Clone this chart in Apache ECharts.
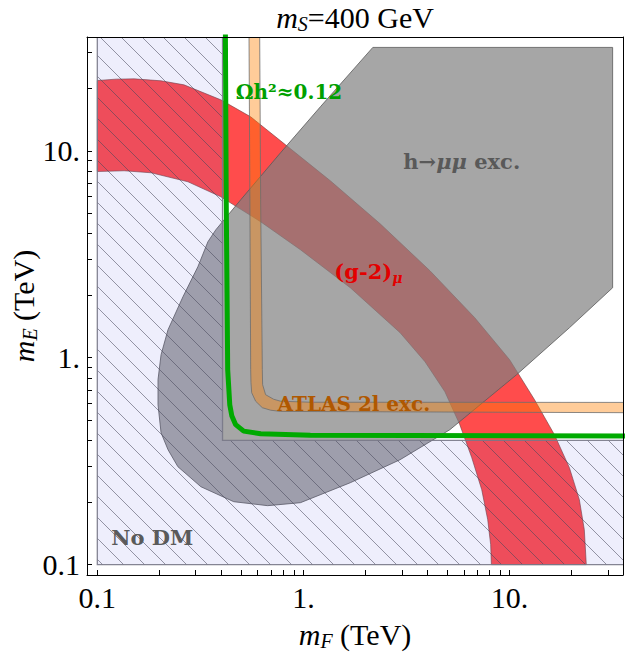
<!DOCTYPE html>
<html>
<head>
<meta charset="utf-8">
<script src="https://cdn.jsdelivr.net/npm/echarts@6.0.0/dist/echarts.min.js"></script>
<style>
html,body{margin:0;padding:0;background:#fff;}
#chart{width:625px;height:658px;}
</style>
</head>
<body>
<div id="chart"></div>
<script>
// ---------------- data (all masses in TeV) ----------------
const tickValues = [0.1,0.2,0.3,0.4,0.5,0.6,0.7,0.8,0.9,1,2,3,4,5,6,7,8,9,10,20,30];
const tickLabelValues = [0.1, 1, 10];
const tickLabels = ['0.1', '1.', '10.'];

// "No DM" region (x < ~0.405 or y < ~0.40)
const noDmF = [0.1, 0.1, 0.405, 0.405, 40, 40];
const noDmE = [0.1, 40, 40, 0.399, 0.399, 0.1];

// relic density contour  Omega h^2 ~ 0.12
const relicF = [0.418, 0.422, 0.429, 0.439, 0.449, 0.469, 0.513, 0.620, 1.08, 40];
const relicE = [40, 5.80, 0.875, 0.593, 0.525, 0.475, 0.442, 0.429, 0.422, 0.418];

// h -> mu mu excluded region boundary
const hmmF = [2.17, 31.6, 31.6, 19.5, 10.81, 5.13, 2.942, 1.687, 0.967, 0.670, 0.459, 0.318, 0.246, 0.2203, 0.2038, 0.197, 0.197, 0.2038, 0.2203, 0.2603, 0.3075, 0.3439, 0.3758, 0.4963, 0.774, 1.208];
const hmmE = [31.6, 31.6, 2.179, 1.396, 0.828, 0.449, 0.3215, 0.2489, 0.1993, 0.1928, 0.2015, 0.238, 0.2974, 0.3593, 0.434, 0.593, 0.783, 1.034, 1.366, 1.971, 2.753, 3.634, 4.153, 5.80, 9.78, 16.32];

// (g-2)_mu band: upper and lower edges
const g2UpperF = [0.1, 0.1235, 0.151, 0.2038, 0.2632, 0.3972, 0.5545, 0.8187, 1.350, 2.355, 4.108, 6.775, 10.0, 13.21, 16.50, 19.50, 21.79, 23.03, 23.55];
const g2UpperE = [21.86, 22.2, 22.27, 21.79, 20.84, 17.64, 14.6, 10.69, 7.165, 4.441, 2.633, 1.561, 0.978, 0.6267, 0.4246, 0.2941, 0.2061, 0.1476, 0.1];
const g2LowerF = [0.1, 0.135, 0.1823, 0.2752, 0.3972, 0.6198, 0.967, 1.687, 2.942, 3.886, 4.853, 5.734, 6.553, 7.323, 7.83, 8.094, 8.158];
const g2LowerE = [7.94, 8.008, 7.83, 7.085, 5.995, 4.54, 3.325, 2.179, 1.321, 0.9565, 0.685, 0.4746, 0.3288, 0.2303, 0.165, 0.1249, 0.1];

// ATLAS 2l exclusion band: outer and inner edges
const atlasOuterF = [0.5441, 0.5497, 0.5546, 0.5564, 0.5608, 0.5862, 0.6316, 0.6929, 0.7742, 40];
const atlasOuterE = [40, 5.80, 0.875, 0.757, 0.6776, 0.6164, 0.5735, 0.5578, 0.5502, 0.5423];
const atlasInnerF = [0.6130, 0.6198, 0.6316, 0.6337, 0.6553, 0.7164, 0.7742, 1.081, 40];
const atlasInnerE = [40, 5.80, 0.875, 0.7407, 0.6627, 0.6302, 0.6164, 0.6095, 0.6082];

// ---------------- helpers ----------------
const lg = v => Math.log10(v);
const toLog = (F, E) => F.map((f, i) => [lg(f), lg(E[i])]);
const SERIF = '"Liberation Serif", "Times New Roman", serif';
const BOLDSERIF = '"DejaVu Serif", serif';

function makeHatch() {
  const s = 21;
  const c = document.createElement('canvas');
  c.width = s; c.height = s;
  const g = c.getContext('2d');
  g.fillStyle = 'rgba(85,85,225,0.10)';
  g.fillRect(0, 0, s, s);
  g.strokeStyle = 'rgba(70,70,90,0.55)';
  g.lineWidth = 1;
  g.beginPath();
  [-s, 0, s].forEach(k => { g.moveTo(k, 0); g.lineTo(k + s, s); });
  g.stroke();
  return c;
}
const hatchCanvas = makeHatch();

function polygonSeries(name, F, E, style, z) {
  const pts = toLog(F, E);
  return {
    name, type: 'custom', coordinateSystem: 'cartesian2d', clip: true, silent: true, z,
    data: [[0, 0]],
    renderItem: (params, api) => ({
      type: 'polygon',
      shape: { points: pts.map(p => api.coord(p)) },
      style: style
    })
  };
}

const notes = [
  { text: 'Ωh²≈0.12', at: [0.469, 19.28], align: 'left', color: '#00A000', size: 20 },
  { text: '{b|h→}{bi|μμ}{b| exc.}', at: [5.86, 8.85], align: 'center', color: '#595959', size: 21 },
  { text: '{b|(g-2)}{sub|μ}', at: [1.412, 2.603], align: 'left', color: '#E30000', size: 21 },
  { text: 'ATLAS 2l exc.', at: [0.749, 0.5995], align: 'left', color: '#B05800', size: 20 },
  { text: 'No DM', at: [0.1168, 0.135], align: 'left', color: '#5A5A5A', size: 21 }
];

function richFor(color, size) {
  return {
    b: { fill: color, fontFamily: BOLDSERIF, fontWeight: 'bold', fontSize: size, lineHeight: 26 },
    bi: { fill: color, fontFamily: BOLDSERIF, fontWeight: 'bold', fontStyle: 'italic', fontSize: size, lineHeight: 26 },
    sub: { fill: color, fontFamily: BOLDSERIF, fontWeight: 'bold', fontStyle: 'italic', fontSize: 14, lineHeight: 14, verticalAlign: 'bottom' }
  };
}

const labelSeries = {
  type: 'custom', coordinateSystem: 'cartesian2d', clip: false, silent: true, z: 8,
  data: [[0, 0]],
  renderItem: (params, api) => ({
    type: 'group',
    children: notes.map(n => {
      const c = api.coord([lg(n.at[0]), lg(n.at[1])]);
      return {
        type: 'text', x: c[0], y: c[1],
        style: {
          text: n.text, fill: n.color, fontFamily: BOLDSERIF, fontWeight: 'bold', fontSize: n.size,
          lineHeight: 26, align: n.align, verticalAlign: 'middle', rich: richFor(n.color, n.size)
        }
      };
    })
  })
};

const FS = 30;
const nameRich = {
  i: { fontFamily: SERIF, fontStyle: 'italic', fontSize: FS, lineHeight: 34, color: '#000' },
  s: { fontFamily: SERIF, fontStyle: 'italic', fontSize: 20, lineHeight: 20, verticalAlign: 'bottom', color: '#000' }
};

const LOG_MIN = -1.05, LOG_MAX = 1.55;
function mainAxis(extra) {
  return Object.assign({
    type: 'value', min: LOG_MIN, max: LOG_MAX, z: 10,
    axisLine: { show: true, onZero: false, lineStyle: { color: '#000', width: 1 } },
    axisTick: { show: true, inside: true, length: 5, customValues: tickValues.map(lg), lineStyle: { color: '#000', width: 1 } },
    axisLabel: {
      show: true, customValues: tickLabelValues.map(lg), margin: 7,
      fontFamily: SERIF, fontSize: FS, color: '#000',
      formatter: v => { const k = tickLabelValues.findIndex(t => Math.abs(lg(t) - v) < 1e-6); return k >= 0 ? tickLabels[k] : ''; }
    },
    splitLine: { show: false },
    nameLocation: 'middle',
    nameTextStyle: { fontFamily: SERIF, fontSize: FS, color: '#000', lineHeight: 34, rich: nameRich }
  }, extra);
}
function frameAxis(pos) {
  return {
    type: 'value', min: LOG_MIN, max: LOG_MAX, position: pos, z: 10,
    axisLine: { show: true, onZero: false, lineStyle: { color: '#000', width: 1 } },
    axisTick: { show: false }, axisLabel: { show: false }, splitLine: { show: false }
  };
}

const chart = echarts.init(document.getElementById('chart'), null, { renderer: 'svg' });
chart.setOption({
  animation: false,
  backgroundColor: '#fff',
  grid: { left: 87, right: 2, top: 37, bottom: 83, containLabel: false, outerBoundsMode: 'none' },
  xAxis: [
    mainAxis({ position: 'bottom', name: '{i|m}{s|F} (TeV)', nameGap: 42 }),
    frameAxis('top')
  ],
  yAxis: [
    mainAxis({ position: 'left', name: '{i|m}{s|E} (TeV)', nameGap: 47, nameRotate: 90, nameMoveOverlap: false }),
    frameAxis('right')
  ],
  graphic: [{
    type: 'text', x: 355, y: 17, z: 20,
    style: {
      text: '{i|m}{s|S}=400 GeV', fill: '#000', fontFamily: SERIF, fontSize: FS, lineHeight: 34,
      align: 'center', verticalAlign: 'middle',
      rich: {
        i: { fill: '#000', fontFamily: SERIF, fontStyle: 'italic', fontSize: FS, lineHeight: 34 },
        s: { fill: '#000', fontFamily: SERIF, fontStyle: 'italic', fontSize: 20, lineHeight: 20, verticalAlign: 'bottom' }
      }
    }
  }],
  series: [
    polygonSeries('g2', g2UpperF.concat(g2LowerF.slice().reverse()), g2UpperE.concat(g2LowerE.slice().reverse()),
      { fill: 'rgba(255,0,0,0.7)', stroke: 'rgba(110,60,60,0.6)', lineWidth: 1 }, 2),
    polygonSeries('hmm', hmmF, hmmE,
      { fill: 'rgba(128,128,128,0.7)', stroke: 'rgba(90,90,90,0.8)', lineWidth: 1 }, 3),
    polygonSeries('atlas', atlasOuterF.concat(atlasInnerF.slice().reverse()), atlasOuterE.concat(atlasInnerE.slice().reverse()),
      { fill: 'rgba(255,128,0,0.4)', stroke: 'rgba(110,110,110,0.8)', lineWidth: 1 }, 4),
    polygonSeries('nodm', noDmF, noDmE,
      { fill: { image: hatchCanvas, repeat: 'repeat', imageWidth: 21, imageHeight: 21 }, stroke: 'rgba(120,120,135,0.9)', lineWidth: 1.3 }, 5),
    {
      name: 'relic', type: 'line', z: 6, silent: true, clip: true, symbol: 'none', showSymbol: false,
      data: toLog(relicF, relicE),
      lineStyle: { color: 'rgb(0,170,0)', width: 5 }
    },
    labelSeries
  ]
});
</script>
</body>
</html>
